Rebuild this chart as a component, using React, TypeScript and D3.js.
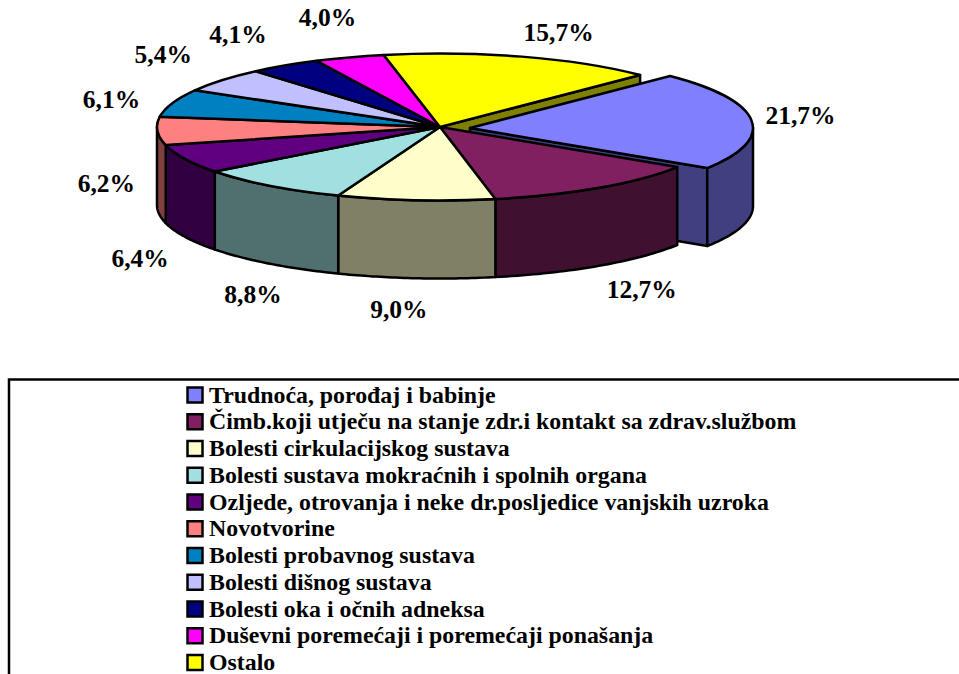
import React from "react";
import * as d3 from "d3";

const categories = [
  "Trudnoća, porođaj i babinje",
  "Čimb.koji utječu na stanje zdr.i kontakt sa zdrav.službom",
  "Bolesti cirkulacijskog sustava",
  "Bolesti sustava mokraćnih i spolnih organa",
  "Ozljede, otrovanja i neke dr.posljedice vanjskih uzroka",
  "Novotvorine",
  "Bolesti probavnog sustava",
  "Bolesti dišnog sustava",
  "Bolesti oka i očnih adneksa",
  "Duševni poremećaji i poremećaji ponašanja",
  "Ostalo",
];
const values = [21.7, 12.7, 9.0, 8.8, 6.4, 6.2, 6.1, 5.4, 4.1, 4.0, 15.7];
const colors = ["#8080ff", "#802060", "#ffffcc", "#a0e0e0", "#600080", "#ff8080", "#0080c0", "#c0c0ff", "#000080", "#ff00ff", "#ffff00"];

// label offset from the rim point at each slice's middle angle
const labelNudge = [[49, 4], [43, 110], [-17, 118], [-17, 117], [-45, 108], [-51, 61], [-61, 5], [-59, -17], [-47, -23], [-22, -31], [37, -16]];

const width = 959;
const height = 674;
const cx = 440;
const cy = 127;
const rx = 283;
const ry = 73.5;
const depth = 78;
const explode = 30;
const font = "'Liberation Serif', 'Times New Roman', serif";

const fmt = (v: number) => v.toFixed(1).replace(".", ",") + "%";
const sideOf = (c: string) => {
  const r = d3.rgb(c);
  return d3.rgb(r.r / 2, r.g / 2, r.b / 2).formatHex();
};

const slices = d3
  .pie<number>()
  .sort(null)
  .startAngle(Math.PI / 4)
  .endAngle(Math.PI / 4 + 2 * Math.PI)(values);

const topArc = d3.arc<d3.PieArcDatum<number>>().innerRadius(0).outerRadius(rx);

const rim = (t: number, ox: number) => ({
  x: cx + ox + rx * Math.sin(t),
  y: cy + (ox ? 1 : 0) - ry * Math.cos(t),
});

// outer wall of a slice, only the part that faces the viewer
const wall = (a0: number, a1: number, ox: number) => {
  const from = Math.max(a0, Math.PI / 2);
  const to = Math.min(a1, (3 * Math.PI) / 2);
  if (to <= from) return null;
  const ts = d3.range(0, 41).map((i) => from + ((to - from) * i) / 40);
  return d3
    .area<number>()
    .x((t) => rim(t, ox).x)
    .y0((t) => rim(t, ox).y)
    .y1((t) => rim(t, ox).y + depth)(ts);
};

// flat cut side of a slice, from the centre to the rim
const cutWall = (t: number, ox: number) => {
  const p = rim(t, ox);
  const ay = cy + (ox ? 1 : 0);
  const ax = cx + ox;
  return d3.line()([
    [ax, ay],
    [p.x, p.y],
    [p.x, p.y + depth],
    [ax, ay + depth],
  ]) + "Z";
};

const strokeProps = { stroke: "#000", strokeWidth: 2.5, strokeLinejoin: "round" as const };

const Top = ({ i }: { i: number }) => {
  const ox = i === 0 ? explode : 0;
  return (
    <path
      d={topArc(slices[i]) as string}
      transform={`translate(${cx + ox},${cy + (ox ? 1 : 0)}) scale(1,${ry / rx})`}
      fill={colors[i]}
      vectorEffect="non-scaling-stroke"
      {...strokeProps}
    />
  );
};

const App = () => {
  const rest = d3.range(1, values.length);
  const first = slices[0];
  const last = slices[slices.length - 1];
  return (
    <svg
      width={width}
      height={height}
      style={{ position: "absolute", left: 0, top: 0, background: "#fff" }}
    >
      {/* cut side of Ostalo, seen behind the pulled out slice */}
      <path d={cutWall(last.endAngle, 0)} fill={sideOf(colors[10])} {...strokeProps} />

      {/* pulled out slice */}
      <path d={cutWall(first.endAngle, explode)} fill={sideOf(colors[0])} {...strokeProps} />
      <path d={wall(first.startAngle, first.endAngle, explode) as string} fill={sideOf(colors[0])} {...strokeProps} />
      <Top i={0} />

      {rest.map((i) => {
        const d = wall(slices[i].startAngle, slices[i].endAngle, 0);
        return d ? <path key={i} d={d} fill={sideOf(colors[i])} {...strokeProps} /> : null;
      })}
      {rest.map((i) => (
        <Top key={i} i={i} />
      ))}

      {slices.map((s, i) => {
        const p = rim((s.startAngle + s.endAngle) / 2, i === 0 ? explode : 0);
        return (
          <text
            key={i}
            x={p.x + labelNudge[i][0]}
            y={p.y + labelNudge[i][1]}
            textAnchor="middle"
            fontFamily={font}
            fontWeight="bold"
            fontSize={25.5}
          >
            {fmt(values[i])}
          </text>
        );
      })}

      {/* legend frame runs off the page on the right and at the bottom */}
      <path d={`M9,${height}V379.5H${width}`} fill="none" stroke="#000" strokeWidth={2.5} />
      {categories.map((c, i) => (
        <g key={c} transform={`translate(0,${395 + i * 26.75})`}>
          <rect x={187.5} y={-7.5} width={15} height={15} fill={colors[i]} stroke="#000" strokeWidth={2.5} />
          <text x={209} y={7.5} fontFamily={font} fontWeight="bold" fontSize={23.85}>
            {c}
          </text>
        </g>
      ))}
    </svg>
  );
};

export default App;
